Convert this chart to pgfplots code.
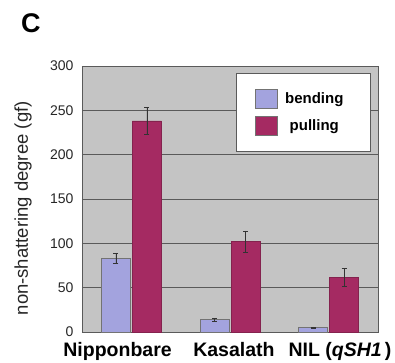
\documentclass[border=0pt]{standalone}
\usepackage{pgfplots}
\pgfplotsset{compat=1.18}
\usepackage{fontspec}
\setmainfont{Liberation Sans}
\definecolor{bgc}{HTML}{C4C4C4}
\definecolor{bend}{HTML}{A3A3DE}
\definecolor{pull}{HTML}{A52A62}
\definecolor{gridc}{HTML}{5A5A5A}
\begin{document}
\begin{tikzpicture}
\begin{axis}[
  at={(0pt,0pt)}, anchor=south west,
  scale only axis, width=296pt, height=266pt,
  xmin=0.5, xmax=3.5, ymin=0, ymax=300,
  ytick={0,50,...,300},
  ymajorgrids, grid style={gridc, line width=0.8pt},
  axis background/.style={fill=bgc},
  axis line style={draw=gridc, line width=0.8pt},
  ybar, bar width=29pt,
  xtick={0.86,2.04,3.115},
  xticklabels={Nipponbare, Kasalath, {NIL (\textit{qSH1}\,)}},
  major x tick style={draw=none},
  extra x ticks={1.5,2.5},
  extra x tick labels={},
  extra x tick style={major tick length=6pt, tick style={draw=gridc, line width=0.6pt}},
  major y tick style={draw=none},
  x tick label style={font=\fontsize{19.5}{22}\selectfont\bfseries, yshift=-3pt},
  y tick label style={font=\fontsize{14}{16}\selectfont, color=black!85, xshift=-5pt},
  /pgf/number format/assume math mode=true,
  ylabel={non-shattering degree (gf)},
  ylabel style={font=\fontsize{18.5}{21}\selectfont, color=black!85, at={(axis description cs:-0.199,0.465)}, anchor=center},
  legend style={at={(0.973,0.974)}, anchor=north east, draw=gridc, fill=white,
    font=\fontsize{15}{17}\selectfont\bfseries, inner xsep=18.5pt, inner ysep=15.5pt, row sep=8pt,
    /tikz/every even column/.append style={column sep=8pt}},
  legend image code/.code={\draw[#1, draw=black!55] (0pt,-9.5pt) rectangle (22pt,9.5pt);},
  error bars/error bar style={line width=0.6pt, color=black!80},
  error bars/error mark options={rotate=90, mark size=2.5pt, line width=0.6pt},
]
\addplot[fill=bend, draw=black!55, error bars/.cd, y dir=both, y explicit]
  coordinates {(1,83) +- (0,6) (2,14) +- (0,1.5) (3,5) +- (0,0.8)};
\addplot[fill=pull, draw=pull!80!black, error bars/.cd, y dir=both, y explicit]
  coordinates {(1,238) +- (0,15) (2,102) +- (0,12) (3,62) +- (0,10)};
\legend{\makebox[70pt]{bending}, \makebox[70pt]{pulling}}
\end{axis}
\node[anchor=base west, font=\fontsize{27}{30}\selectfont\bfseries, inner sep=0pt] at (-61pt,299pt) {C};
\pgfresetboundingbox
\path (-82pt,-30pt) rectangle (313pt,332pt);
\end{tikzpicture}
\end{document}
